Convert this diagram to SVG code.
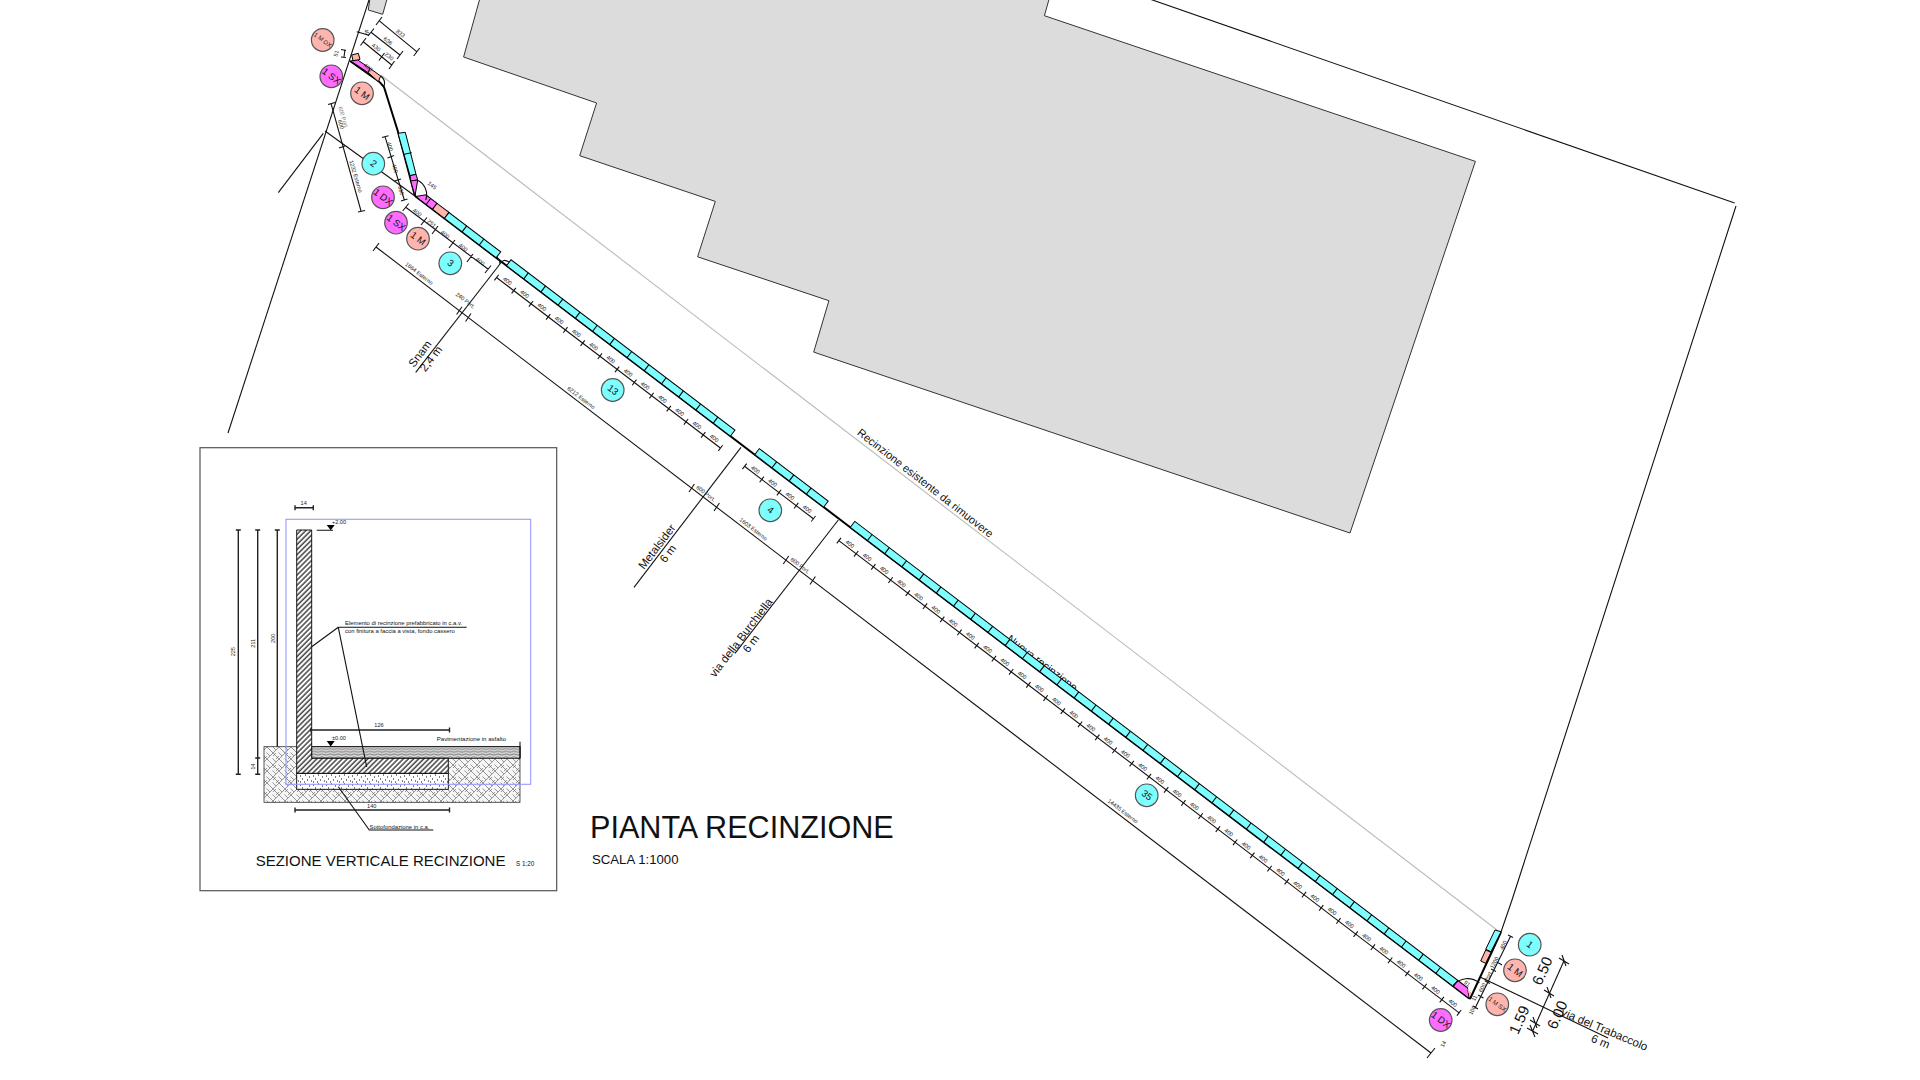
<svg xmlns="http://www.w3.org/2000/svg" width="1920" height="1080" viewBox="0 0 1920 1080">
<style>
text{font-family:"Liberation Sans",Arial,sans-serif;text-anchor:middle;fill:#111}
.d{font-size:5.6px;fill:#222}
.m{font-size:11.5px}
.big{font-size:15px}
.s{font-size:5.9px}
.l{text-anchor:start}
.n{font-size:9.5px}
.cy{fill:#7dffff}.pk{fill:#ffb5ae}.mg{fill:#ff6cff}
.sh{stroke:#000;stroke-width:1}
.thin{fill:none;stroke:#111;stroke-width:1.1}
.wall{fill:none;stroke:#000;stroke-width:2}
.node circle{stroke:#555;stroke-width:1.2}
.tick{stroke:#111;stroke-width:7;stroke-dasharray:1.1 20.55;fill:none}
.div{stroke:#000;stroke-width:7.5;stroke-dasharray:1.1 20.55;fill:none}
.hd{fill:none;stroke:#222;stroke-width:1.4}
</style>
<defs>
<pattern id="hw" patternUnits="userSpaceOnUse" width="3.6" height="3.6" patternTransform="rotate(45)"><rect width="3.6" height="3.6" fill="#fff"/><line x1="1" y1="0" x2="1" y2="3.6" stroke="#000" stroke-width="1.1"/></pattern>
<pattern id="hg" patternUnits="userSpaceOnUse" width="12" height="12"><rect width="12" height="12" fill="#f6f6f6"/><path d="M0,6L6,0M6,12L12,6M0,0L6,6M6,6L12,12M2.5,8.5L6,12M8.5,2.5L12,6M0,3L3,0M9,12L12,9" stroke="#555" stroke-width=".6" fill="none"/></pattern>
<pattern id="ha" patternUnits="userSpaceOnUse" width="8" height="2.8"><rect width="8" height="2.8" fill="#d8d8d8"/><path d="M0,1.4Q2,.2 4,1.4T8,1.4" stroke="#444" stroke-width=".65" fill="none"/></pattern>
<pattern id="hd" patternUnits="userSpaceOnUse" width="13" height="9"><rect width="13" height="9" fill="#fff"/><path d="M1,2h1M6,1h1M10,3h1M3,5h1M8,6h1M12,7h1M1,8h1M5,8h1" stroke="#000" stroke-width="1"/></pattern>
</defs>
<rect width="1920" height="1080" fill="#fff"/>

<g id="building">
<polygon points="480,-2 463.6,57 596.6,103 579.7,155.7 715.3,201.4 697.6,256.8 828.9,300.7 813.7,352.1 1350,533 1475.4,161.4 1044.4,15.7 1049.4,-2" fill="#dcdcdc" stroke="#333" stroke-width="1"/>
<polygon points="370,-2 368.3,10 382.7,14.3 387.3,-2" fill="#dcdcdc" stroke="#333" stroke-width="1"/>
</g>

<g id="site-lines" class="thin">
<polyline points="1149.6,-1 1734.6,203"/>
<polyline points="1736,206 1512,900 1501,932"/>
<line x1="369" y1="0" x2="228" y2="433"/>
<line x1="323.3" y1="133.3" x2="278.3" y2="192.7"/>
<line x1="325" y1="131" x2="415" y2="196"/>
<line x1="380.7" y1="75" x2="1497" y2="930" style="stroke:#bbb"/>
</g>

<g id="roads" class="thin">
<line x1="500" y1="264" x2="415.7" y2="372.3"/>
<line x1="741" y1="447.3" x2="634" y2="587.3"/>
<line x1="838.3" y1="520" x2="735" y2="653.3"/>
<line x1="1480" y1="977" x2="1608" y2="1038"/>
</g>

<text style="font-size:11px" transform="translate(923,486) rotate(38)">Recinzione esistente da rimuovere</text>
<text style="font-size:11px" transform="translate(1040,666) rotate(37.3)">Nuova recinzione</text>
<text class="m" transform="translate(423,356) rotate(-52.6)">Snam</text>
<text class="m" transform="translate(434,361) rotate(-52.6)">2,4 m</text>
<text class="m" transform="translate(660,549) rotate(-52.6)">Metalsider</text>
<text class="m" transform="translate(671,556) rotate(-52.6)">6 m</text>
<text class="m" transform="translate(744,640) rotate(-52.6)">via della Burchiella</text>
<text class="m" transform="translate(754,646) rotate(-52.6)">6 m</text>
<text class="m" transform="translate(1603,1033) rotate(23)">via del Trabaccolo</text>
<text class="m" transform="translate(1599,1045) rotate(23)">6 m</text>

<g id="dim-large" class="thin">
<polyline points="1564,960.7 1532.7,1031"/>
<path d="M1559,958L1569,964M1562,955L1566,966M1544,990L1554,996M1547,987L1551,998M1530,1020L1540,1026M1533,1017L1537,1028M1527,1028L1538,1034M1530,1025L1535,1037"/>
</g>
<text class="big" transform="translate(1547,973) rotate(-66)">6.50</text>
<text class="big" transform="translate(1562,1017) rotate(-66)">6.00</text>
<text class="big" transform="translate(1524,1022) rotate(-66)">1.59</text>

<g id="wall-main" transform="translate(415,196) rotate(37.28)">
<line class="wall" x1="0" y1="0" x2="1325" y2="0"/>
<polygon class="mg sh" points="1,0 8,-7.5 22,-7.5 22,0"/>
<line class="sh" x1="14" y1="-7.5" x2="14" y2="0"/>
<rect class="pk sh" x="22" y="-7.5" width="15" height="7.5"/>
<rect class="cy sh" x="37" y="-7.5" width="65" height="7.5"/>
<line class="div" x1="58.65" y1="-3.75" x2="95" y2="-3.75"/>
<rect class="cy sh" x="115" y="-7.5" width="281.4" height="7.5"/>
<line class="div" x1="136.15" y1="-3.75" x2="390" y2="-3.75"/>
<rect class="cy sh" x="427" y="-7.5" width="86.6" height="7.5"/>
<line class="div" x1="448.15" y1="-3.75" x2="510" y2="-3.75"/>
<rect class="cy sh" x="547" y="-7.5" width="757.8" height="7.5"/>
<line class="div" x1="568.15" y1="-3.75" x2="1300" y2="-3.75"/>
<polygon class="mg sh" points="1305,-7.5 1317,-7.5 1325,0 1305,0"/>
<polygon class="pk" points="1317,-7 1323,-6 1325,-1"/>
<g id="dim-13"><line class="thin" x1="114.2" y1="15.5" x2="395.6" y2="15.5"/><line class="tick" x1="113.7" y1="15.5" x2="396.5" y2="15.5"/></g>
<g>
<text class="d" x="125" y="13.5">400</text><text class="d" x="146.7" y="13.5">400</text><text class="d" x="168.3" y="13.5">400</text><text class="d" x="190" y="13.5">400</text><text class="d" x="211.6" y="13.5">400</text><text class="d" x="233.3" y="13.5">400</text><text class="d" x="254.9" y="13.5">400</text><text class="d" x="276.6" y="13.5">400</text><text class="d" x="298.2" y="13.5">400</text><text class="d" x="319.9" y="13.5">400</text><text class="d" x="341.5" y="13.5">400</text><text class="d" x="363.2" y="13.5">400</text><text class="d" x="384.8" y="13.5">400</text>
</g>
<g id="dim-4"><line class="thin" x1="425.9" y1="15.5" x2="512.5" y2="15.5"/><line class="tick" x1="425.4" y1="15.5" x2="513" y2="15.5"/></g>
<text class="d" x="436.7" y="13.5">400</text><text class="d" x="458.4" y="13.5">400</text><text class="d" x="480" y="13.5">400</text><text class="d" x="501.7" y="13.5">400</text>
<g id="dim-35"><line class="thin" x1="546" y1="17.5" x2="1326" y2="17.5"/><line class="tick" x1="545.5" y1="17.5" x2="1327" y2="17.5"/></g>
<g transform="translate(546,15.5)">
<text class="d" x="10.8">400</text><text class="d" x="32.5">400</text><text class="d" x="54.1">400</text><text class="d" x="75.8">400</text><text class="d" x="97.4">400</text><text class="d" x="119.1">400</text><text class="d" x="140.7">400</text><text class="d" x="162.4">400</text><text class="d" x="184">400</text><text class="d" x="205.7">400</text><text class="d" x="227.3">400</text><text class="d" x="249">400</text><text class="d" x="270.6">400</text><text class="d" x="292.3">400</text><text class="d" x="313.9">400</text><text class="d" x="335.6">400</text><text class="d" x="357.2">400</text><text class="d" x="378.9">400</text><text class="d" x="400.5">400</text><text class="d" x="422.2">400</text><text class="d" x="443.8">400</text><text class="d" x="465.5">400</text><text class="d" x="487.1">400</text><text class="d" x="508.8">400</text><text class="d" x="530.4">400</text><text class="d" x="552.1">400</text><text class="d" x="573.7">400</text><text class="d" x="595.4">400</text><text class="d" x="617">400</text><text class="d" x="638.7">400</text><text class="d" x="660.3">400</text><text class="d" x="682">400</text><text class="d" x="703.6">400</text><text class="d" x="725.3">400</text><text class="d" x="746.9">400</text><text class="d" x="768.6">400</text>
</g>
</g>

<g id="dim-esterno" class="thin">
<line x1="376" y1="247" x2="1431" y2="1053"/>
<path d="M373,251L379,243M456.6,314.5L462,306.7M465.6,321.5L471,313.5M689,492L694.4,484M714,511L719.4,503M783.3,564L788.7,556M810,584.5L815.4,576.5M1427,1058L1435,1048"/>
</g>
<text class="d" transform="translate(418,275) rotate(37.3)">1664 Esterno</text>
<text class="d" transform="translate(580,399.3) rotate(37.3)">6212 Esterno</text>
<text class="d" transform="translate(752.3,530.7) rotate(37.3)">1603 Esterno</text>
<text class="d" transform="translate(1121.7,812.7) rotate(37.3)">14435 Esterno</text>
<text class="d" transform="translate(464.3,302) rotate(37.3)">240 Port.</text>
<text class="d" transform="translate(704.7,495) rotate(37.3)">600 Port.</text>
<text class="d" transform="translate(799,567) rotate(37.3)">600 Port.</text>
<text class="d" transform="translate(1445,1045) rotate(-63)">14</text>

<g id="wall-top">
<path class="wall" d="M350,61L379.3,81.7L384,87L398,131.7L415,196"/>
<polygon class="pk sh" points="351.7,55 358.3,53.3 360,59.3 353.3,61.7"/>
<polygon class="mg sh" points="350.7,61 357.7,60 370,68.3 368.3,72.7"/>
<polygon class="pk sh" points="370,68.3 380.7,76 378.3,81.7 368.3,72.7"/>
<polygon class="cy sh" points="398,133.3 405.3,132.3 416,174.3 410,175.7"/>
<line class="sh" x1="404" y1="154.3" x2="411.7" y2="152.7"/>
<polygon class="mg sh" points="410,175.7 416,174.3 417.7,180 410.7,181"/>
<polygon class="mg sh" points="410.7,181 417.7,180 415,196"/>
<path class="thin" d="M380.7,76Q386,80 384,86M418,180.5A16,16 0 0 1 425.7,200M497,257Q500,260 500,264M500,264Q503,258 509,262"/>
<path class="thin" d="M379,20.7L416.7,51.7M376,25L382,17M413.7,56L419.7,48M371,32.3L400,55M368,36L374,28.5M397,59L403,51M363.3,41.7L391.7,65M360.5,45.5L366,38M378.9,60.5L384.5,53M389,69L394.5,61M356.7,31.7L368.3,35M341,49.5L346,50.5M341,57L346,57.5M345,49.5L344,57"/>
<path class="thin" d="M385,136.7L404.3,200M382,137.5L388.5,135.7M387.5,158L394,155.5M394.5,181L401,179M401,201L407.5,199M405.7,207.3L488.3,269.3M402.7,211L408.7,203.5M421,225L427,217.5M432,234L438,226M449,248L455,240M467,262L473,254M485,273L491,265.5"/>
<path class="thin" d="M331,103.3L361,211M328,104.5L335,102.5M358,212L365,210.5M339,148L345,146"/>
</g>
<g id="dim-top-labels">
<text class="d" transform="translate(399.3,35) rotate(38)">833</text>
<text class="d" transform="translate(386.7,42.5) rotate(38)">636</text>
<text class="d" transform="translate(375,49) rotate(38)">430</text>
<text class="d" transform="translate(388,58) rotate(38)">230</text>
<text class="d" transform="translate(365,33) rotate(70)">40</text>
<text class="d" transform="translate(338,54) rotate(-75)">51</text>
<text class="d" transform="translate(367,69) rotate(38)">400</text>
<text class="d" transform="translate(341.5,118) rotate(73)" style="fill:#777">600 Port.</text>
<text class="d" transform="translate(339,125) rotate(73)">600</text>
<text class="d" transform="translate(354,177) rotate(73)">1232 Esterno</text>
<text class="d" transform="translate(388,147) rotate(73)">400</text>
<text class="d" transform="translate(393,169) rotate(73)">400</text>
<text class="d" transform="translate(399,191) rotate(73)">330</text>
<text class="d" transform="translate(431,187) rotate(38)">145</text>
<text class="d" transform="translate(416,214) rotate(38)">400</text>
<text class="d" transform="translate(430.5,225) rotate(38)">251</text>
<text class="d" transform="translate(444,236) rotate(38)">400</text>
<text class="d" transform="translate(462,249) rotate(38)">400</text>
<text class="d" transform="translate(479,263) rotate(38)">400</text>
</g>

<g id="wall-end">
<polyline class="wall" points="1501,932 1470,999"/>
<polygon class="cy sh" points="1495,930 1501,931.7 1491,951.7 1485.7,949.3"/>
<polygon class="pk sh" points="1485.7,950 1491,952.3 1485.7,963.3 1480.7,961"/>
<path class="thin" d="M1453.3,985A19,19 0 0 1 1479.3,982.7"/>
<path class="thin" d="M1510.7,936L1475,1008.3M1508,935L1513,937.5M1497,962L1502,965M1491,969L1496,971.5M1485,981L1490,983.5M1478,995L1483.5,998M1473,1006L1478,1009"/>
</g>
<g id="dim-end-labels">
<text class="d" transform="translate(1505,946) rotate(-63)">400</text>
<text class="d" transform="translate(1496,963.5) rotate(-63)">1200</text>
<text class="d" transform="translate(1490,977) rotate(-63)">Port.</text>
<text class="d" transform="translate(1484,988.5) rotate(-63)">600</text>
<text class="d" transform="translate(1476,999) rotate(-63)">11</text>
<text class="d" transform="translate(1474,1011) rotate(-63)">100</text>
<text class="d" transform="translate(1466,985) rotate(37)">91</text>
</g>

<g id="n1" class="node" transform="translate(322.7,40)"><circle class="pk" r="11.3"/><text class="d" y="2" transform="rotate(37)" style="font-size:6.2px">1 M DX</text></g>
<g id="n2" class="node" transform="translate(331.3,76.3)"><circle class="mg" r="11.3"/><text class="n" y="3" transform="rotate(37)">1 SX</text></g>
<g id="n3" class="node" transform="translate(362,93.3)"><circle class="pk" r="11.3"/><text class="n" y="3" transform="rotate(37)">1 M</text></g>
<g id="n4" class="node" transform="translate(373.3,163.7)"><circle class="cy" r="11.3"/><text class="n" y="3" transform="rotate(37)">2</text></g>
<g id="n5" class="node" transform="translate(383,197.3)"><circle class="mg" r="11.3"/><text class="n" y="3" transform="rotate(37)">1 DX</text></g>
<g id="n6" class="node" transform="translate(396,222.7)"><circle class="mg" r="11.3"/><text class="n" y="3" transform="rotate(37)">1 SX</text></g>
<g id="n7" class="node" transform="translate(418,238.7)"><circle class="pk" r="11.3"/><text class="n" y="3" transform="rotate(37)">1 M</text></g>
<g id="n8" class="node" transform="translate(450.3,263.3)"><circle class="cy" r="11.3"/><text class="n" y="3" transform="rotate(37)">3</text></g>
<g id="n9" class="node" transform="translate(612.7,390)"><circle class="cy" r="11.3"/><text class="n" y="3" transform="rotate(37)">13</text></g>
<g id="n10" class="node" transform="translate(770.3,510.3)"><circle class="cy" r="11.3"/><text class="n" y="3" transform="rotate(37)">4</text></g>
<g id="n11" class="node" transform="translate(1146.7,795.3)"><circle class="cy" r="11.3"/><text class="n" y="3" transform="rotate(37)">35</text></g>
<g id="n12" class="node" transform="translate(1440.7,1020)"><circle class="mg" r="11.3"/><text class="n" y="3" transform="rotate(37)">1 DX</text></g>
<g id="n13" class="node" transform="translate(1497.3,1004.3)"><circle class="pk" r="11.3"/><text class="d" y="2" transform="rotate(37)" style="font-size:6.2px">1 M SX</text></g>
<g id="n14" class="node" transform="translate(1515,970.3)"><circle class="pk" r="11.3"/><text class="n" y="3" transform="rotate(37)">1 M</text></g>
<g id="n15" class="node" transform="translate(1529.7,944.7)"><circle class="cy" r="11.3"/><text class="n" y="3" transform="rotate(37)">1</text></g>

<text class="l" x="590" y="838.3" style="font-size:30.6px">PIANTA RECINZIONE</text>
<text class="l" x="592" y="864" style="font-size:13.2px">SCALA 1:1000</text>

<g id="section">
<rect x="200" y="447.7" width="356.7" height="443" fill="#fff" stroke="#555" stroke-width="1.2"/>
<rect x="264" y="746.7" width="256" height="55.6" fill="url(#hg)" stroke="#333" stroke-width=".8"/>
<rect x="311.7" y="746.7" width="208.3" height="11.6" fill="url(#ha)" stroke="#000" stroke-width=".8"/>
<rect x="296.7" y="773.3" width="151.6" height="16" fill="url(#hd)" stroke="#000" stroke-width=".9"/>
<polygon points="296.7,530 311.7,530 311.7,758.3 448.3,758.3 448.3,773.3 296.7,773.3" fill="url(#hw)" stroke="#000" stroke-width=".9"/>
<line x1="520" y1="741.7" x2="520" y2="758" stroke="#000"/>
<rect x="286" y="519.3" width="244.7" height="265" fill="none" stroke="#9999ff" stroke-width="1.1"/>
<path class="hd" d="M238.3,530V774.3M235.8,530H240.8M235.8,774.3H240.8M257.7,530V774.3M255.2,530H260.2M255.2,758H260.2M255.2,774.3H260.2M277.3,530V746.7M274.8,530H279.8M295,507.7H313.3M295,505.2V510.2M313.3,505.2V510.2M310,730H450M311,727.5V732.5M449.5,727.5V732.5M295,810H449.5M295,807.5V812.5M449.5,807.5V812.5"/>
<path class="thin" d="M316.7,530.3H333M338.3,627.3H466.7M338.3,627.3L311.7,646.7M338.3,627.3L366.7,767M338.3,786.7L369.3,830H433.3"/>
<polygon points="326.7,525 334.7,525 330.7,530.3" fill="#000"/>
<polygon points="326.7,741 334.7,741 330.7,746.4" fill="#000"/>
<text class="d" x="303.7" y="505">14</text>
<text class="d" x="339" y="524">+2.00</text>
<text class="d" x="339" y="740">±0.00</text>
<text class="d" transform="translate(235,651.7) rotate(-90)">225</text>
<text class="d" transform="translate(255,643.3) rotate(-90)">211</text>
<text class="d" transform="translate(274.5,638.3) rotate(-90)">200</text>
<text class="d" transform="translate(254.5,766.7) rotate(-90)">14</text>
<text class="d" x="379" y="727">126</text>
<text class="d" x="371.7" y="808">140</text>
<text class="s l" x="345" y="625">Elemento di recinzione prefabbricato in c.a.v.</text>
<text class="s l" x="345" y="632.5">con finitura a faccia a vista, fondo cassero</text>
<text class="s l" x="436.7" y="741" style="font-size:6.1px">Pavimentazione in asfalto</text>
<text class="s l" x="369.5" y="828.5">Sottofondazione in c.a.</text>
<text class="l" x="255.7" y="866" style="font-size:15px">SEZIONE VERTICALE RECINZIONE</text>
<text class="l" x="516" y="866" style="font-size:6.3px">S  1:20</text>
</g>
</svg>
